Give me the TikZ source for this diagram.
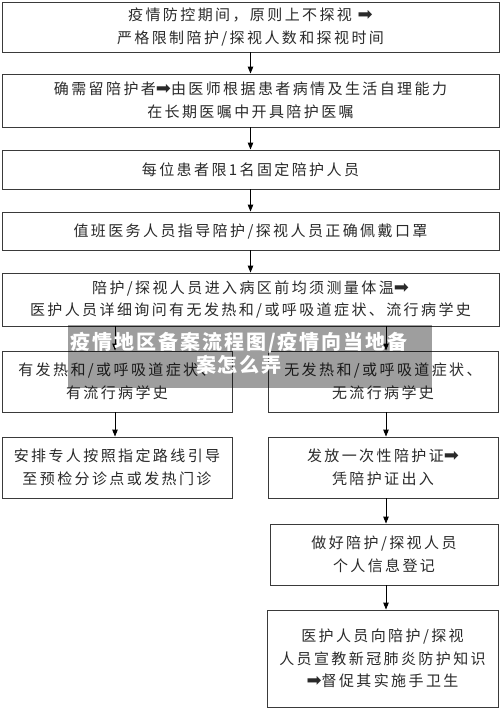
\documentclass[tikz,border=0pt]{standalone}
\usepackage{fontspec}
\setmainfont{Noto Sans CJK SC}[LetterSpace=16]
\newfontfamily\symfont{DejaVu Sans}
\newfontfamily\wmfont{Noto Sans CJK SC}[LetterSpace=10]
\usetikzlibrary{arrows.meta}
\definecolor{txt}{HTML}{2A2A2A}
\definecolor{ln}{HTML}{3A3A3A}
\tikzset{
  box/.style={draw=ln, line width=0.9pt, inner sep=0pt, align=center, text=txt,
    font=\fontsize{15}{22.5}\selectfont},
  arr/.style={draw=black, line width=0.9pt, -{Triangle[length=7pt,width=5.5pt]}},
}
\newcommand{\ra}{{\symfont\fontsize{18}{18}\selectfont\char"27A1}}
\begin{document}
\begin{tikzpicture}[x=1pt,y=-1pt]
\useasboundingbox[fill=white] (0,0) rectangle (500,713);
\node[box, minimum width=497pt, minimum height=50pt] (b1) at (250.5,27)
  {疫情防控期间，原则上不探视 \ra\\严格限制陪护/探视人数和探视时间};
\node[box, minimum width=497pt, minimum height=53pt] (b2) at (250.5,100.5)
  {确需留陪护者\ra 由医师根据患者病情及生活自理能力\\在长期医嘱中开具陪护医嘱};
\node[box, minimum width=497pt, minimum height=39pt] (b3) at (250.5,169.5)
  {每位患者限1名固定陪护人员};
\node[box, minimum width=497pt, minimum height=38pt] (b4) at (250.5,231)
  {值班医务人员指导陪护/探视人员正确佩戴口罩};
\node[box, minimum width=497pt, minimum height=53pt] (b5) at (250.5,299.5)
  {陪护/探视人员进入病区前均须测量体温\ra\\医护人员详细询问有无发热和/或呼吸道症状、流行病学史};
\node[box, minimum width=230pt, minimum height=61pt] (b6) at (117,381.5)
  {有发热和/或呼吸道症状、\\有流行病学史};
\node[box, minimum width=230pt, minimum height=61pt] (b7) at (383,381.5)
  {无发热和/或呼吸道症状、\\无流行病学史};
\node[box, minimum width=230pt, minimum height=61pt] (b8) at (117,467.5)
  {安排专人按照指定路线引导\\至预检分诊点或发热门诊};
\node[box, minimum width=230pt, minimum height=61pt] (b9) at (383,467.5)
  {发放一次性陪护证\ra\\凭陪护证出入};
\node[box, minimum width=228pt, minimum height=61pt] (b10) at (384,554.5)
  {做好陪护/探视人员\\个人信息登记};
\node[box, minimum width=231pt, minimum height=97pt] (b11) at (382.5,658.5)
  {医护人员向陪护/探视\\人员宣教新冠肺炎防护知识\\\ra 督促其实施手卫生};
\draw[arr] (b1.south) -- (b2.north);
\draw[arr] (b2.south) -- (b3.north);
\draw[arr] (b3.south) -- (b4.north);
\draw[arr] (b4.south) -- (b5.north);
\coordinate (s6) at (115,326);
\coordinate (s7) at (386,326);
\draw[arr] (s6) -- (s6 |- b6.north);
\draw[arr] (s7) -- (s7 |- b7.north);
\draw[arr] (s6 |- b6.south) -- (s6 |- b8.north);
\draw[arr] (s7 |- b7.south) -- (s7 |- b9.north);
\draw[arr] (s7 |- b9.south) -- (s7 |- b10.north);
\draw[arr] (s7 |- b10.south) -- (s7 |- b11.north);
\fill[black, opacity=0.38] (68,325) rectangle (432,388);
\node[text=white, align=center, font=\wmfont\bfseries\fontsize{20}{23}\selectfont, inner sep=0pt] (wm) at (239,353.5)
  {疫情地区备案流程图/疫情向当地备\\案怎么弄};
\end{tikzpicture}
\end{document}
